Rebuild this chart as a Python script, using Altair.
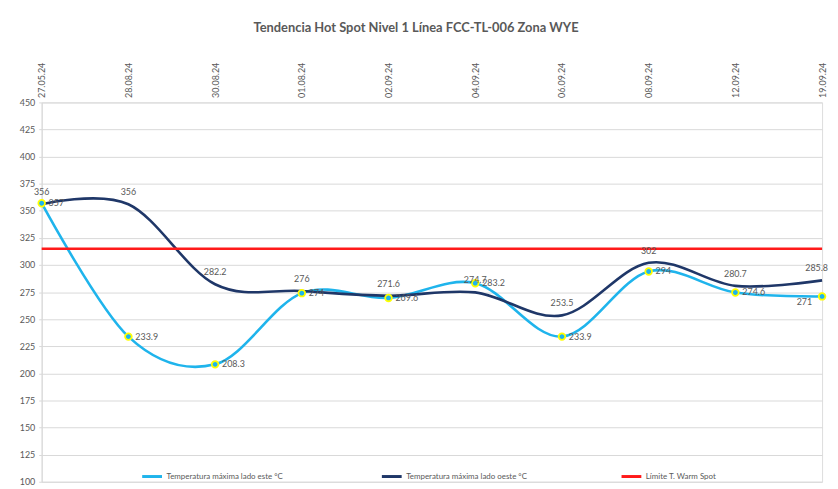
import altair as alt
import pandas as pd

fechas = ["27.05.24", "28.08.24", "30.08.24", "01.08.24", "02.09.24",
          "04.09.24", "06.09.24", "08.09.24", "12.09.24", "19.09.24"]
este = [357, 233.9, 208.3, 274, 269.6, 283.2, 233.9, 294, 274.6, 271]
oeste = [356, 356, 282.2, 276, 271.6, 274.7, 253.5, 302, 280.7, 285.8]
limite = [315, 315, 315, 315, 315, 315, 315, 315, 315, 315]
y_ticks = [100, 125, 150, 175, 200, 225, 250, 275, 300, 325, 350, 375, 400, 425, 450]

S_ESTE = "Temperatura máxima lado este °C"
S_OESTE = "Temperatura máxima lado oeste °C"
S_LIM = "Límite T. Warm Spot"
series_names = [S_ESTE, S_OESTE, S_LIM]
series_colors = ["#1fb4ec", "#1f3768", "#ff1a1a"]

rows = []
for name, vals in [(S_ESTE, este), (S_OESTE, oeste), (S_LIM, limite)]:
    for i, (f, v) in enumerate(zip(fechas, vals)):
        rows.append({"fecha": f, "valor": v, "serie": name, "idx": i})
df = pd.DataFrame(rows)

df_este = df[df.serie == S_ESTE]
df_oeste = df[df.serie == S_OESTE]
last = len(fechas) - 1

FONT = "Lato"
GRAY = "#595959"

x_enc = alt.X("fecha:N", sort=fechas, scale=alt.Scale(padding=0),
              axis=alt.Axis(orient="top", title=None, labelAngle=270, labelFontSize=9,
                            labelColor=GRAY, labelFont=FONT, ticks=False, domain=False,
                            grid=False, labelPadding=5))
y_enc = alt.Y("valor:Q", scale=alt.Scale(domain=[100, 450], nice=False, zero=False),
              axis=alt.Axis(values=y_ticks, title=None, labelFontSize=9, labelColor=GRAY,
                            labelFont=FONT, gridColor="#d9d9d9", domainColor="#d9d9d9",
                            tickColor="#d9d9d9", tickSize=3, labelPadding=4,
                            labelOverlap=False, tickCount=15))

lines = alt.Chart(df).mark_line(interpolate="cardinal", strokeWidth=2.6).encode(
    x=x_enc, y=y_enc,
    color=alt.Color("serie:N", scale=alt.Scale(domain=series_names, range=series_colors),
                    legend=alt.Legend(orient="none", legendX=100, legendY=366,
                                      direction="horizontal", title=None,
                                      symbolType="stroke", symbolStrokeWidth=3,
                                      symbolSize=400, labelFontSize=8, labelColor=GRAY,
                                      labelFont=FONT, columnPadding=88, gridAlign="all",
                                      labelOffset=3)),
    detail="serie:N",
    order="idx:Q",
)

points = alt.Chart(df_este).mark_circle(size=45, fill="#1fb4ec", stroke="#ffff00",
                                        strokeWidth=1.8, opacity=1).encode(x=x_enc, y=y_enc)

text_este = alt.Chart(df_este).transform_filter(f"datum.idx < {last}").mark_text(
    align="left", dx=7, fontSize=9, color=GRAY, font=FONT).encode(
    x=x_enc, y=y_enc, text="valor:Q")

text_este_last = alt.Chart(df_este).transform_filter(f"datum.idx == {last}").mark_text(
    align="right", dx=-10, dy=6, fontSize=9, color=GRAY, font=FONT).encode(
    x=x_enc, y=y_enc, text="valor:Q")

text_oeste = alt.Chart(df_oeste).transform_filter(f"datum.idx < {last}").mark_text(
    align="center", dy=-12, fontSize=9, color=GRAY, font=FONT).encode(
    x=x_enc, y=y_enc, text="valor:Q")

text_oeste_last = alt.Chart(df_oeste).transform_filter(f"datum.idx == {last}").mark_text(
    align="right", dx=6, dy=-12, fontSize=9, color=GRAY, font=FONT).encode(
    x=x_enc, y=y_enc, text="valor:Q")

chart = alt.layer(lines, points, text_este, text_este_last, text_oeste,
                  text_oeste_last).properties(
    width=788, height=383,
    title=alt.TitleParams("Tendencia Hot Spot Nivel 1 Línea FCC-TL-006 Zona WYE",
                          fontSize=13, fontWeight="bold", color=GRAY, font=FONT,
                          anchor="middle", offset=28, dx=-16),
    autosize=alt.AutoSizeParams(type="none"),
    padding={"left": 34, "top": 93, "right": 8, "bottom": 5},
).configure_view(stroke=None).configure(background="white")

chart.save("out.html", embed_options={"renderer": "svg", "actions": False})
